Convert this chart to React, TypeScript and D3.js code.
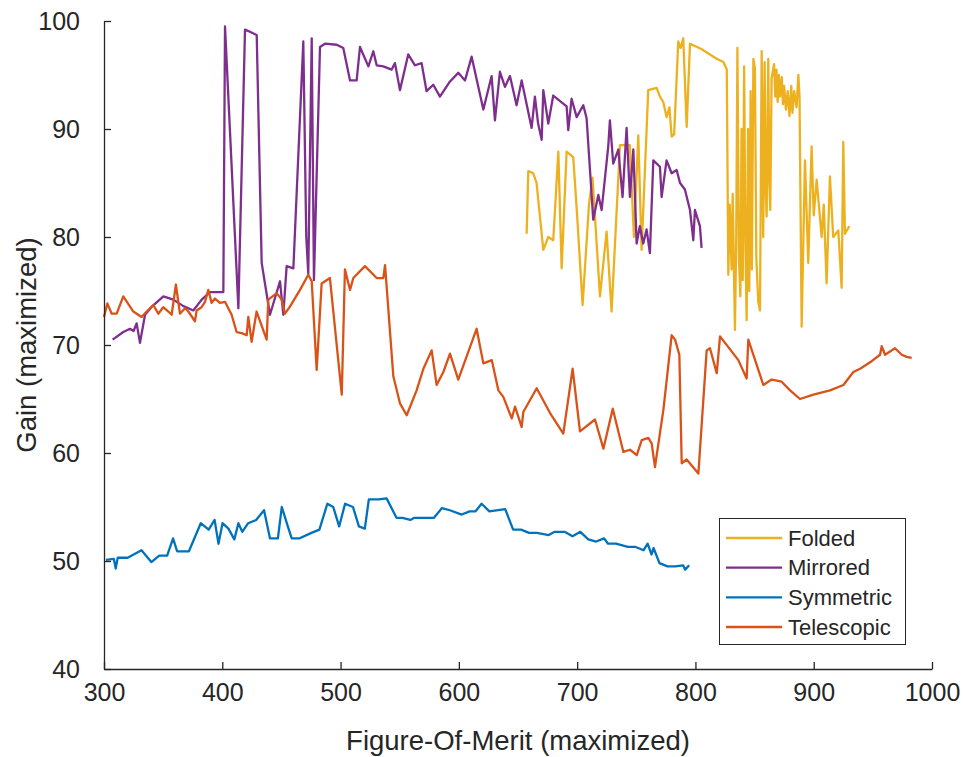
import React, { useEffect, useRef } from "react";
import * as d3 from "d3";

// series order = plot order (later ones sit on top)
const seriesNames = ["Folded", "Mirrored", "Symmetric", "Telescopic"];
const seriesColors = ["#EDB120", "#7E2F8E", "#0072BD", "#D95319"];

const xTicks = [300, 400, 500, 600, 700, 800, 900, 1000];
const yTicks = [40, 50, 60, 70, 80, 90, 100];

// [figure-of-merit, gain]
const folded: [number, number][] = [
  [657.3, 80.3], [658.7, 86.1], [662.9, 85.9], [665.7, 85.0], [671.4, 78.8], [675.6, 80.0],
  [679.8, 79.7], [684.1, 87.9], [686.9, 77.1], [691.1, 87.9], [696.7, 87.4], [700, 82],
  [704.6, 73.7], [710, 83], [713, 85.5], [719.3, 74.5], [724.9, 80.5], [729.1, 73.1],
  [736.2, 88.5], [744.6, 88.5], [748, 80], [751.7, 89.4], [754.5, 78.8], [760.1, 93.6],
  [767.2, 93.8], [770, 93.0], [772.8, 92.5], [775.6, 91.1], [778, 92], [779.9, 89.3],
  [782, 89.5], [785.5, 98.1], [787.5, 97.5], [789.7, 98.4], [792.6, 90.2], [795.4, 97.9],
  [805, 97.4], [817.9, 96.5], [823.6, 96.2], [826.5, 95.5], [827.8, 76.5], [829, 83],
  [830.6, 77], [831.5, 84], [833.4, 71.4], [834.5, 80], [835.5, 97.5], [836.8, 78],
  [838, 74.5], [839, 90], [840, 76], [841.2, 95.8], [842.2, 80], [843.3, 72.3],
  [844.5, 90], [845.5, 75], [846.7, 93.5], [847.7, 77], [849, 96.5], [850.3, 95.6],
  [851.5, 78], [853.1, 74.0], [854.6, 73.2], [856.0, 97.2], [857.3, 80], [858.5, 96.2],
  [859.5, 84], [860.2, 81.9], [861.6, 96.5], [862.5, 85], [863.3, 82.5], [864.4, 94.7],
  [866.5, 96.0], [867.5, 93], [868.5, 95.5], [869.5, 92.5], [870.5, 95], [871.5, 93],
  [873, 94.8], [874, 92.3], [875, 94], [876.5, 91.8], [878, 93.5], [879.5, 91.2],
  [881, 94], [882, 91.5], [883.5, 93.5], [885.5, 92.0], [887, 95], [888, 93],
  [889.8, 71.7], [892.6, 87.1], [895.4, 77.6], [898.2, 88.4], [900, 82], [902.5, 85.3],
  [906.7, 80.0], [908.5, 83], [910.9, 75.7], [913.7, 85.6], [916.5, 80.0], [920.8, 80.6],
  [923.6, 75.3], [925.0, 88.8], [926.4, 80.3], [930.1, 81.0],
];

const mirrored: [number, number][] = [
  [307.3, 70.5], [316.3, 71.2], [322, 71.5], [325, 71.3], [327.6, 72.0], [330.4, 70.2],
  [334.7, 72.8], [340, 73.5], [350.2, 74.5], [358.6, 74.2], [367.1, 73.6], [375.5, 73.2],
  [382.6, 74.2], [389.6, 74.9], [400.9, 74.9], [402.3, 99.5], [413.6, 73.4], [419.2, 99.2],
  [423.4, 99.0], [429.1, 98.7], [433.3, 77.6], [440.3, 72.8], [448.8, 75.9], [451.6, 72.8],
  [454.4, 77.3], [460.1, 77.1], [468.5, 98.1], [471, 80], [472.7, 76.6], [475.6, 98.4],
  [477.5, 76.0], [482.6, 97.6], [486.8, 97.9], [496.7, 97.8], [502.3, 97.5], [508.0, 94.5],
  [513.6, 94.5], [516.4, 97.6], [523.5, 95.8], [527.7, 97.2], [530.5, 95.9], [536.1, 95.8],
  [543.2, 95.5], [546.0, 96.1], [550.2, 93.6], [557.2, 96.9], [562.9, 95.9], [568.5, 96.1],
  [572.7, 93.5], [578.4, 94.1], [584.0, 93.0], [592.5, 94.4], [599.5, 95.2], [605.2, 94.5],
  [610.8, 96.7], [620.7, 91.8], [627.7, 94.9], [630.5, 90.8], [634.7, 95.3], [639.0, 93.9],
  [643.2, 94.9], [648.8, 92.2], [653.1, 94.5], [661.5, 90.1], [664.3, 93.0], [667, 90.5],
  [670.0, 89.0], [671.4, 93.6], [675.6, 90.5], [679.8, 93.1], [691.1, 92.1], [692.5, 89.9],
  [695.3, 92.8], [699.6, 91.1], [705.2, 92.2], [708, 91], [713.6, 81.6], [717.9, 83.9],
  [720.7, 82.5], [726.3, 88.4], [727.7, 90.8], [730.5, 86.8], [734.8, 88.1], [738.4, 83.7],
  [741.8, 90.1], [744.6, 83.7], [747.5, 88.1], [750.3, 79.4], [753, 81], [755.9, 79.4],
  [758.7, 80.7], [761.5, 78.5], [764.4, 87.1], [770.0, 86.5], [771.4, 83.7], [775.6, 87.1],
  [779.9, 85.9], [784.1, 86.2], [787.0, 85.0], [791.1, 84.4], [795.4, 82.5], [798.2, 79.7],
  [799.6, 82.5], [803.8, 81.0], [805.2, 79.0],
];

const symmetric: [number, number][] = [
  [301.6, 50.1], [308.3, 50.2], [309.9, 49.3], [311.6, 50.3], [320.0, 50.3], [331.7, 51.0],
  [340.0, 49.9], [346.7, 50.5], [353.4, 50.5], [358.4, 52.1], [361.8, 50.9], [371.8, 50.9],
  [381.8, 53.5], [388.5, 52.9], [393.5, 53.8], [396.8, 51.6], [400.2, 53.5], [405.2, 53.0],
  [410.2, 52.0], [413.6, 53.5], [416.9, 52.7], [421.9, 53.5], [428.6, 53.8], [435.3, 54.7],
  [440.3, 52.1], [447.0, 52.1], [450.3, 55.0], [455.4, 53.2], [458.7, 52.1], [465.4, 52.1],
  [475.4, 52.6], [482.1, 52.9], [488.8, 55.3], [493.8, 55.0], [498.8, 53.2], [503.8, 55.3],
  [510.5, 55.0], [515.5, 53.2], [520.5, 53.0], [523.9, 55.7], [532.2, 55.7], [538.9, 55.8],
  [547.3, 54.0], [552.3, 54.0], [559.0, 53.8], [562.3, 54.0], [579.0, 54.0], [585.7, 54.9],
  [592.4, 54.7], [602.4, 54.3], [609.1, 54.6], [614.1, 54.6], [619.2, 55.3], [625.8, 54.6],
  [639.2, 54.8], [645.9, 52.9], [652.6, 52.9], [659.3, 52.6], [666.0, 52.6], [676.0, 52.4],
  [681.0, 52.7], [689.4, 52.7], [696.1, 52.3], [702.7, 52.7], [709.4, 52.0], [716.1, 51.8],
  [722.8, 52.1], [726.1, 51.6], [732.8, 51.6], [742.9, 51.3], [749.5, 51.3], [756.2, 51.0],
  [759.6, 51.6], [762.9, 50.6], [764.6, 51.2], [769.6, 49.8], [776.3, 49.5], [783.0, 49.5],
  [789.6, 49.6], [791.3, 49.2], [794.7, 49.6],
];

const telescopic: [number, number][] = [
  [300, 72.6], [302.8, 73.85], [306.5, 72.9], [310.7, 72.9], [316.3, 74.5], [324.8, 73.1],
  [331.8, 72.6], [336.1, 73.1], [341.7, 73.7], [345.9, 72.9], [350.1, 73.5], [354.4, 73.1],
  [357.2, 72.8], [360.8, 75.6], [364.2, 72.9], [368.5, 73.4], [371.3, 73.1], [376.9, 72.2],
  [378.3, 73.2], [382.5, 73.5], [385.4, 74.0], [388.2, 75.1], [391.0, 73.9], [393.8, 74.3],
  [398.0, 73.9], [402.3, 74.0], [407.9, 72.8], [412.1, 71.2], [416.4, 71.1], [420.6, 70.9],
  [422.0, 72.6], [424.8, 70.3], [429.0, 73.1], [431.9, 72.2], [437.5, 70.5], [438.9, 74.2],
  [446, 74.8], [450.2, 74.2], [453, 72.9], [457.2, 73.55], [465.7, 75.1], [472.7, 76.5],
  [475.6, 75.9], [479.8, 67.7], [484, 75.7], [491, 76.2], [501, 65.4], [503.7, 77.0],
  [508, 75.1], [510.8, 76.2], [520.6, 77.3], [530.5, 76.2], [536.1, 76.2], [537.6, 77.4],
  [544.6, 67.1], [550.2, 64.6], [555.9, 63.5], [564.3, 65.8], [570, 67.8], [577, 69.5],
  [581.2, 66.3], [586.9, 67.5], [592.5, 69.2], [599.5, 66.8], [615, 71.5], [620.7, 68.3],
  [627.8, 68.6], [633.4, 65.8], [637.6, 65.2], [644.7, 63.2], [647.5, 64.3], [653.1, 62.4],
  [654.5, 63.8], [665.8, 66.0], [677.1, 63.7], [688.3, 61.8], [696.2, 67.8], [702.4, 62.0],
  [715.1, 63.1], [722.2, 60.4], [730.1, 64.1], [739.1, 60.1], [744.7, 60.3], [750.4, 59.8],
  [754.6, 61.2], [760.2, 61.4], [763.0, 60.9], [765.8, 58.7], [772.9, 64.0], [779.9, 70.9],
  [782.8, 70.5], [786.4, 69.1], [788.4, 59.05], [792.6, 59.4], [802.5, 58.1], [809.5, 69.5],
  [812.3, 69.7], [818.0, 67.4], [820.8, 70.8], [836.3, 68.6], [843.3, 66.9], [844.7, 70.5],
  [857.4, 66.3], [864.4, 66.8], [872.9, 66.6], [880.0, 65.8], [888.4, 65.0], [899.7, 65.4],
  [913.8, 65.8], [925.1, 66.3], [933.5, 67.5], [939.2, 67.8], [949.0, 68.5], [956.1, 69.1],
  [957.5, 69.9], [960.3, 69.1], [968.7, 69.7], [974.4, 69.1], [978.6, 68.9], [982.8, 68.8],
];

const W = 963;
const H = 757;
const FONT = "'Liberation Sans', Arial, Helvetica, sans-serif";
const INK = "#262626";

export default function App() {
  const svgRef = useRef<SVGSVGElement>(null);

  useEffect(() => {
    const svg = d3.select(svgRef.current);
    svg.selectAll("*").remove();

    const x = d3.scaleLinear().domain([300, 1000]).range([104, 932]);
    const y = d3.scaleLinear().domain([40, 100]).range([669, 21]);

    const allSeries = [folded, mirrored, symmetric, telescopic];

    const line = d3
      .line<[number, number]>()
      .x((d) => x(d[0]))
      .y((d) => y(d[1]));

    svg
      .append("g")
      .selectAll("path")
      .data(allSeries)
      .join("path")
      .attr("d", (d) => line(d))
      .attr("fill", "none")
      .attr("stroke", (d, i) => seriesColors[i])
      .attr("stroke-width", 2.3)
      .attr("stroke-linejoin", "round");

    // axes, ticks pointing inward like matlab
    const xAxis = d3
      .axisBottom(x)
      .tickValues(xTicks)
      .tickFormat(d3.format("d"))
      .tickSizeInner(-7)
      .tickSizeOuter(0)
      .tickPadding(14);
    const gx = svg.append("g").attr("transform", `translate(0, ${y(40)})`).call(xAxis);
    const yAxis = d3
      .axisLeft(y)
      .tickValues(yTicks)
      .tickFormat(d3.format("d"))
      .tickSizeInner(-7)
      .tickSizeOuter(0)
      .tickPadding(24);
    const gy = svg.append("g").attr("transform", `translate(${x(300)}, 0)`).call(yAxis);

    [gx, gy].forEach((g) => {
      g.attr("font-family", FONT).attr("font-size", 25);
      g.select(".domain").attr("stroke", INK).attr("stroke-width", 1.3);
      g.selectAll(".tick line").attr("stroke", INK).attr("stroke-width", 1.3);
      g.selectAll(".tick text").attr("fill", INK);
    });

    svg
      .append("text")
      .attr("x", (x(300) + x(1000)) / 2)
      .attr("y", 750)
      .attr("text-anchor", "middle")
      .attr("font-family", FONT)
      .attr("font-size", 27.5)
      .attr("fill", INK)
      .text("Figure-Of-Merit (maximized)");

    svg
      .append("text")
      .attr("transform", `translate(26, ${(y(40) + y(100)) / 2}) rotate(-90)`)
      .attr("text-anchor", "middle")
      .attr("dominant-baseline", "central")
      .attr("font-family", FONT)
      .attr("font-size", 27.5)
      .attr("fill", INK)
      .text("Gain (maximized)");

    // legend
    const lg = svg.append("g");
    lg.append("rect")
      .attr("x", 719.5)
      .attr("y", 518.5)
      .attr("width", 186)
      .attr("height", 126)
      .attr("fill", "white")
      .attr("stroke", INK)
      .attr("stroke-width", 1);

    const rowY = d3.scalePoint<string>().domain(seriesNames).range([538, 627]);
    const items = lg
      .selectAll("g.item")
      .data(seriesNames)
      .join("g")
      .attr("class", "item")
      .attr("transform", (d) => `translate(0, ${rowY(d)})`);
    items
      .append("line")
      .attr("x1", 726)
      .attr("x2", 782)
      .attr("stroke", (d, i) => seriesColors[i])
      .attr("stroke-width", 2.3);
    items
      .append("text")
      .attr("x", 788)
      .attr("dy", "0.35em")
      .attr("font-family", FONT)
      .attr("font-size", 22)
      .attr("fill", INK)
      .text((d) => d);
  }, []);

  return (
    <div style={{ position: "fixed", left: 0, top: 0, background: "white" }}>
      <svg ref={svgRef} width={W} height={H} />
    </div>
  );
}
